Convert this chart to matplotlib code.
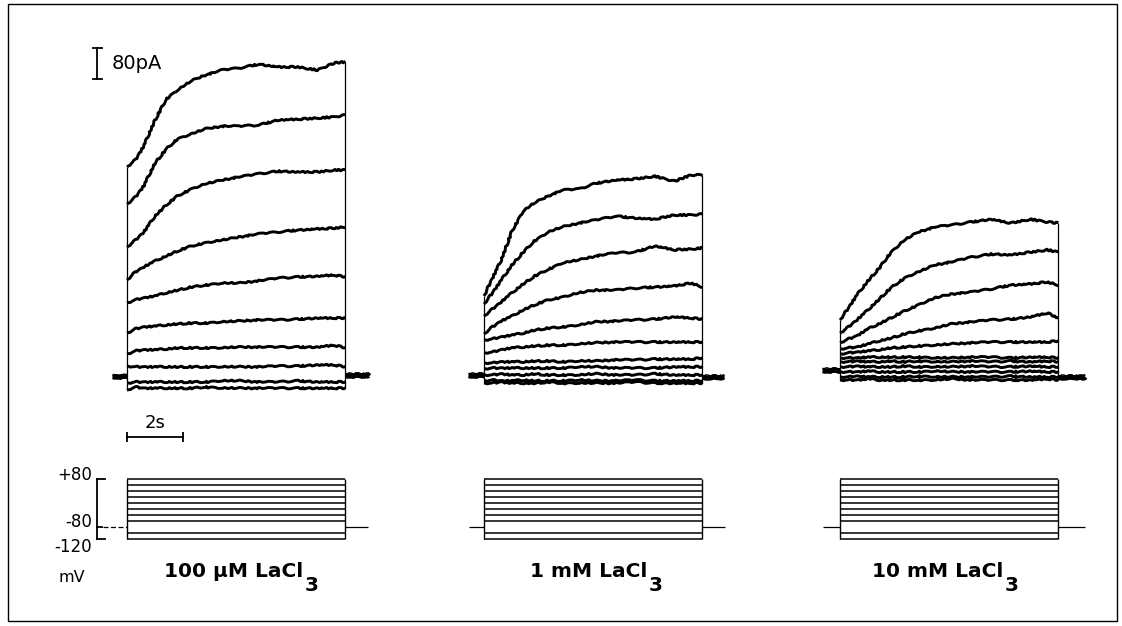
import matplotlib
matplotlib.use("Agg")
import matplotlib.pyplot as plt
import matplotlib.transforms as mtransforms
from matplotlib.patches import Rectangle

W, H, DPI = 1122, 626, 100

# sample times (s) of each current sweep, pulse length 7.8 s
T = [0, 0.3, 0.6, 1.0, 1.4, 1.8, 2.3, 2.8, 3.4, 4.0, 4.7, 5.4, 6.1, 6.8, 7.4, 7.8]
PULSE_S = 7.8

# test potentials (mV); holding potential -80 mV
STEPS_MV = [80, 60, 40, 20, 0, -20, -40, -60, -80, -100, -120]
HOLD_MV = -80

CONC = ["100 µM", "1 mM", "10 mM"]

# membrane currents (pA), one row per test potential (+80 ... -120 mV)
I_100UM = [
    [537, 555, 591, 658, 712, 735, 759, 774, 787, 792, 802, 795, 795, 787, 805, 808],
    [441, 459, 488, 547, 583, 609, 622, 635, 642, 642, 645, 658, 660, 663, 666, 671],
    [330, 348, 369, 410, 439, 462, 480, 493, 503, 511, 519, 526, 524, 524, 529, 529],
    [245, 266, 279, 294, 307, 320, 333, 341, 348, 356, 364, 369, 374, 377, 379, 382],
    [186, 194, 199, 204, 212, 219, 227, 232, 237, 237, 243, 250, 253, 255, 258, 253],
    [108, 119, 124, 126, 129, 132, 134, 134, 137, 139, 142, 142, 144, 147, 147, 147],
    [54, 62, 65, 65, 67, 70, 70, 70, 70, 72, 72, 72, 72, 72, 77, 70],
    [23, 21, 21, 21, 21, 21, 21, 21, 21, 21, 21, 23, 23, 26, 26, 21],
    None,  # -80 mV sweep lies on the holding current
    [-21, -18, -18, -18, -18, -18, -18, -18, -15, -15, -18, -18, -15, -18, -18, -18],
    [-39, -31, -34, -34, -34, -34, -34, -31, -34, -34, -34, -34, -34, -34, -34, -34],
]
I_1MM = [
    [204, 250, 294, 372, 423, 444, 462, 477, 480, 495, 503, 506, 513, 500, 516, 516],
    [183, 212, 243, 284, 317, 346, 369, 382, 392, 400, 410, 405, 402, 413, 413, 415],
    [152, 170, 188, 212, 235, 255, 273, 289, 297, 307, 315, 317, 333, 323, 325, 328],
    [106, 124, 139, 152, 168, 181, 194, 201, 212, 219, 219, 224, 227, 230, 237, 227],
    [90, 93, 98, 103, 108, 116, 121, 124, 129, 137, 139, 142, 144, 150, 147, 144],
    [57, 59, 65, 70, 72, 75, 77, 77, 80, 83, 85, 85, 85, 85, 85, 85],
    [31, 31, 34, 34, 34, 36, 36, 34, 36, 36, 39, 39, 41, 41, 41, 44],
    [16, 18, 18, 18, 18, 18, 18, 18, 21, 21, 18, 18, 18, 21, 21, 21],
    [0, 0, 3, 0, 0, 3, 0, 0, 0, 3, 0, 0, 3, 0, 0, 0],
    [-15, -13, -15, -15, -13, -15, -15, -15, -13, -15, -15, -13, -15, -15, -15, -15],
    [-21, -21, -18, -21, -21, -21, -18, -21, -21, -21, -21, -18, -21, -21, -21, -21],
]
I_10MM = [
    [142, 173, 206, 243, 276, 315, 348, 369, 382, 387, 395, 402, 392, 402, 395, 392],
    [108, 124, 142, 168, 196, 224, 250, 266, 284, 292, 304, 312, 310, 317, 323, 317],
    [83, 93, 101, 119, 132, 147, 165, 181, 199, 209, 214, 222, 232, 235, 240, 232],
    [67, 70, 72, 80, 88, 95, 106, 114, 121, 132, 137, 142, 144, 150, 160, 147],
    [54, 57, 59, 62, 65, 70, 72, 75, 77, 80, 83, 85, 85, 85, 85, 88],
    [44, 44, 44, 46, 46, 46, 46, 46, 44, 44, 46, 46, 44, 46, 46, 44],
    [34, 34, 36, 34, 34, 36, 34, 36, 34, 34, 36, 34, 36, 34, 36, 34],
    [21, 21, 23, 21, 21, 21, 23, 21, 21, 21, 23, 21, 21, 23, 21, 21],
    [8, 8, 8, 10, 8, 8, 8, 8, 10, 8, 8, 8, 8, 10, 8, 8],
    [-5, -5, -3, -5, -5, -5, -5, -3, -5, -5, -5, -5, -3, -5, -5, -5],
    [-13, -13, -13, -10, -13, -13, -13, -13, -13, -10, -13, -13, -13, -13, -10, -13],
]
SWEEPS = [I_100UM, I_1MM, I_10MM]

# holding current (pA) before / after the pulse
HOLD_PA_BEFORE = [-3, 0, 13]
HOLD_PA_AFTER = [0, -5, -5]

# scales of the drawing
PX_PER_S = 28.0
PX_PER_PA = 31.0 / 80.0
PX_PER_MV = 0.3

# panel layout in pixels
PANEL_X0 = [127, 484, 840]
BASE_Y = 375          # zero-current level
HOLD_Y = 527          # -80 mV level
CUR_TOP, CUR_BOT = 30, 445
VOLT_TOP, VOLT_BOT = 455, 600
LEFT_PAD, RIGHT_PAD = 40, 260
STUB_I = [(0.55, 0.85), (0.57, 0.78), (0.65, 0.95)]
STUB_V = [(0.85, 0.82), (0.55, 0.8), (0.6, 0.95)]

fig = plt.figure(figsize=(W / DPI, H / DPI), dpi=DPI)
fig.patch.set_facecolor("white")
px = mtransforms.Affine2D().scale(1 / W, -1 / H).translate(0, 1) + fig.transFigure
FONT = "DejaVu Sans"


def px_axes(left, top, width, height):
    ax = fig.add_axes([left / W, 1 - (top + height) / H, width / W, height / H])
    ax.axis("off")
    return ax


def noisy(line, scale=0.7, length=12, randomness=6):
    # recorder jitter on the pen trace
    line.set_sketch_params(scale, length, randomness)
    return line


cur_axes, volt_axes = [], []
for k, x0 in enumerate(PANEL_X0):
    # current sweeps
    ax = px_axes(x0 - LEFT_PAD, CUR_TOP, LEFT_PAD + RIGHT_PAD, CUR_BOT - CUR_TOP)
    ax.set_xlim(-LEFT_PAD / PX_PER_S, RIGHT_PAD / PX_PER_S)
    ax.set_ylim(-(CUR_BOT - BASE_Y) / PX_PER_PA, (BASE_Y - CUR_TOP) / PX_PER_PA)
    sweeps = [s for s in SWEEPS[k] if s is not None]
    for s in sweeps:
        ln, = ax.plot(T, s, color="black", lw=2.1, solid_joinstyle="round",
                      solid_capstyle="butt")
        noisy(ln)
    # on/off jumps of the sweeps
    start = [s[0] for s in sweeps] + [HOLD_PA_BEFORE[k]]
    end = [s[-1] for s in sweeps] + [HOLD_PA_AFTER[k]]
    ax.vlines(0, min(start), max(start), color="black", lw=0.9)
    ax.vlines(PULSE_S, min(end), max(end), color="black", lw=0.9)
    # holding current before and after (all sweeps overlap here)
    pre, post = STUB_I[k]
    for lo, hi, lvl in [(-pre, 0, HOLD_PA_BEFORE[k]),
                        (PULSE_S, PULSE_S + post, HOLD_PA_AFTER[k])]:
        ln, = ax.plot([lo, hi], [lvl, lvl], color="black", lw=3.8,
                      solid_capstyle="butt")
        noisy(ln, 0.6, 20, 8)
        for d in (-4, 4):
            ln, = ax.plot([lo, hi], [lvl + d, lvl + d], color="black", lw=1.0,
                          solid_capstyle="butt")
            noisy(ln, 0.9, 6, 6)
    cur_axes.append(ax)

    # voltage protocol
    av = px_axes(x0 - LEFT_PAD, VOLT_TOP, LEFT_PAD + RIGHT_PAD, VOLT_BOT - VOLT_TOP)
    av.set_xlim(-LEFT_PAD / PX_PER_S, RIGHT_PAD / PX_PER_S)
    av.set_ylim(HOLD_MV - (VOLT_BOT - HOLD_Y) / PX_PER_MV,
                HOLD_MV + (HOLD_Y - VOLT_TOP) / PX_PER_MV)
    steps = [v for v in STEPS_MV if v != HOLD_MV]
    av.hlines(steps, 0, PULSE_S, color="black", lw=1.1)
    av.vlines([0, PULSE_S], min(STEPS_MV), max(STEPS_MV), color="black", lw=1.0)
    pre, post = STUB_V[k]
    av.hlines(HOLD_MV, -pre, 0, color="black", lw=0.9,
              linestyle=(0, (4, 2)) if k == 0 else "-")
    av.hlines(HOLD_MV, PULSE_S, PULSE_S + post, color="black", lw=0.9)
    volt_axes.append(av)

# scale bars on the first panel
ax = cur_axes[0]
bx = -30 / PX_PER_S
cap = 4.5 / PX_PER_S
ax.plot([bx, bx], [765, 845], color="black", lw=1.3, clip_on=False)
for yy in (765, 845):
    ax.plot([bx - cap, bx + cap], [yy, yy], color="black", lw=1.3, clip_on=False)
ax.text(-15 / PX_PER_S, 805, "80pA", fontsize=14, family=FONT,
        ha="left", va="center", clip_on=False)

ty = -(437 - BASE_Y) / PX_PER_PA
tk = 5 / PX_PER_PA
ax.plot([0, 2], [ty, ty], color="black", lw=1.3, clip_on=False)
ax.vlines([0, 2], ty - tk, ty + tk, color="black", lw=1.3)
ax.text(1, ty + 5 / PX_PER_PA, "2s", fontsize=13, family=FONT,
        ha="center", va="bottom", clip_on=False)

# millivolt bracket
av = volt_axes[0]
mx = -30 / PX_PER_S
av.plot([mx, mx], [-120, 80], color="black", lw=1.3, clip_on=False)
av.plot([mx, mx + 8 / PX_PER_S], [80, 80], color="black", lw=1.3, clip_on=False)
av.plot([mx, mx + 8 / PX_PER_S], [-120, -120], color="black", lw=1.3, clip_on=False)
av.plot([mx, mx + 5 / PX_PER_S], [-80, -80], color="black", lw=1.3, clip_on=False)
lx = -35 / PX_PER_S
for lab, yy in [("+80", 93), ("-80", -63), ("-120", -147)]:
    av.text(lx, yy, lab, fontsize=12, family=FONT, ha="right", va="center",
            clip_on=False)
av.text(-55 / PX_PER_S, -250, "mV", fontsize=11.5, family=FONT,
        ha="center", va="center", clip_on=False)

# condition labels under each protocol ("3" set as a lowered subscript)
LABEL_RIGHT = [303, 647, 1003]
for r3, conc in zip(LABEL_RIGHT, CONC):
    fig.text(r3, 577, f"{conc} LaCl", transform=px, fontsize=14.5, family=FONT,
             fontweight="bold", ha="right", va="baseline")
    fig.text(r3 + 2, 591, "3", transform=px, fontsize=14.5, family=FONT,
             fontweight="bold", ha="left", va="baseline")

# outer frame
fig.add_artist(Rectangle((8, 4), 1109, 617, transform=px, fill=False,
                         edgecolor="black", lw=1.0))

fig.savefig("out.png", dpi=DPI, facecolor="white")
